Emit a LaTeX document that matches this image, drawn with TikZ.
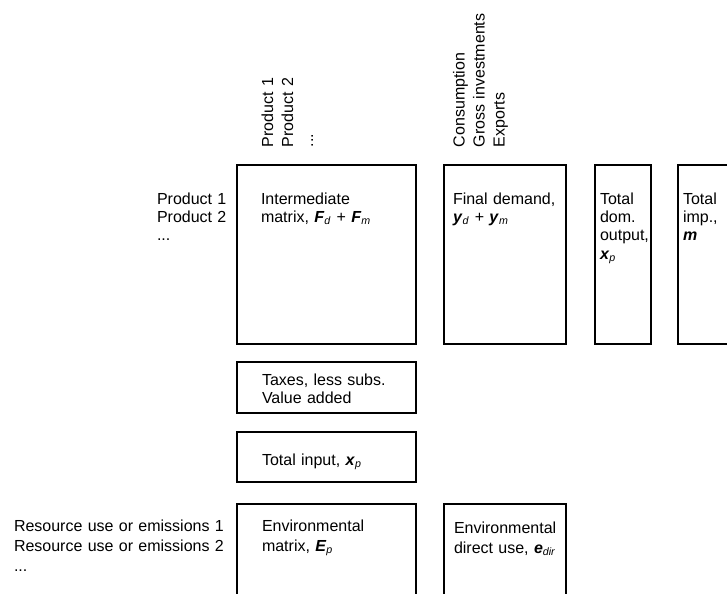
\documentclass[tikz,border=0pt]{standalone}
\usepackage{fontspec}
\setmainfont{Liberation Sans}
\newcommand{\bsub}[2]{\textbf{\textit{#1}}\textsubscript{\textit{#2}}}
\tikzset{
  box/.style={draw=black, line width=1.5pt},
  lbl/.style={inner sep=0pt, outer sep=0pt, anchor=base west, align=left,
    text width=260pt, font=\fontsize{12}{13.8}\selectfont},
  lblw/.style={lbl, font=\fontsize{12}{15}\selectfont},
}
\begin{document}
\begin{tikzpicture}[x=0.75pt, y=-0.75pt]
\useasboundingbox (0,0) rectangle (727,593);
\clip (0,0) rectangle (727,593);
% boxes
\draw[box] (237,165) rectangle (415.5,344);
\draw[box] (444,165) rectangle (566,344);
\draw[box] (595,165) rectangle (651,344);
\draw[box] (678,165) rectangle (770,344);
\draw[box] (237,362) rectangle (415.5,412.5);
\draw[box] (237,432) rectangle (415.5,482);
\draw[box] (237,504) rectangle (415.5,640);
\draw[box] (444,503.5) rectangle (566,640);
% column headers
\node[lblw, rotate=90] (colprod) at (273,147) {Product 1\\Product 2\\...};
\node[lblw, rotate=90] (colfd) at (464.5,147) {Consumption\\Gross investments\\Exports};
% row headers
\node[lbl] (rowprod) at (157,204) {Product 1\\Product 2\\...};
\node[lblw] (rowenv) at (14,531) {Resource use or emissions 1\\Resource use or emissions 2\\...};
% box texts
\node[lbl] (tinter) at (261,204) {Intermediate\\matrix, \bsub{F}{d} + \bsub{F}{m}};
\node[lbl] (tfd) at (453,204) {Final demand,\\\bsub{y}{d} + \bsub{y}{m}};
\node[lbl] (tdom) at (600,204) {Total\\dom.\\output,\\\bsub{x}{p}};
\node[lbl] (timp) at (683,204) {Total\\imp.,\\\textbf{\textit{m}}};
\node[lbl] (ttax) at (262,385) {Taxes, less subs.\\Value added};
\node[lbl] (ttin) at (262,465) {Total input, \bsub{x}{p}};
\node[lblw] (tenv) at (262,531) {Environmental\\matrix, \bsub{E}{p}};
\node[lblw] (tenvd) at (454,533) {Environmental\\direct use, \bsub{e}{dir}};
\end{tikzpicture}
\end{document}
